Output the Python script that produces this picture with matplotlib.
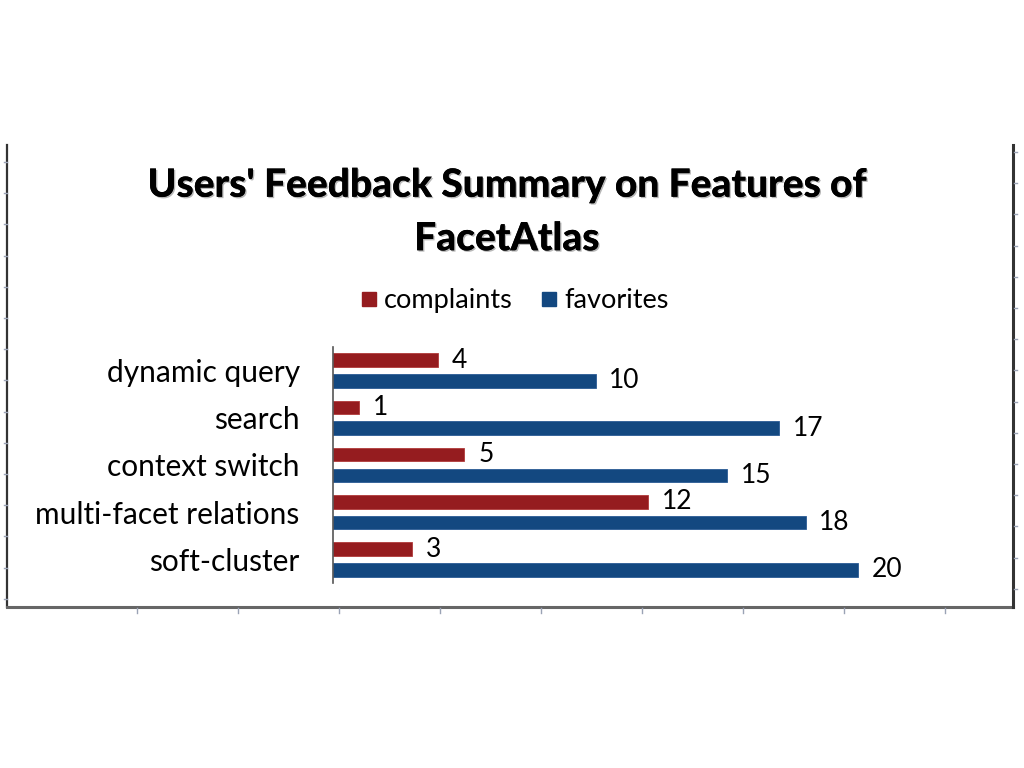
import matplotlib.pyplot as plt
import matplotlib.patheffects as pe
from matplotlib.lines import Line2D
from matplotlib.patches import Rectangle
import numpy as np

features = ["dynamic query", "search", "context switch", "multi-facet relations", "soft-cluster"]
complaints = [4, 1, 5, 12, 3]
favorites = [10, 17, 15, 18, 20]
series_names = ["complaints", "favorites"]

red = "#951c1f"
blue = "#134880"
font = "Lato"

W, H = 1024, 768
fig = plt.figure(figsize=(W / 100, H / 100), dpi=100)

# outer chart frame (left, bottom, right) with its little tick marks
def fx(x):
    return x / W

def fy(y):
    return 1 - y / H

frame_c = "#333333"
fig.add_artist(Line2D([fx(7), fx(7)], [fy(145), fy(607)], color=frame_c, lw=1.6))
fig.add_artist(Line2D([fx(7), fx(1013)], [fy(607), fy(607)], color="#666666", lw=2.2))
fig.add_artist(Line2D([fx(1013), fx(1013)], [fy(145), fy(607)], color=frame_c, lw=2.2))
for y in np.arange(162, 605, 31.2):
    fig.add_artist(Line2D([fx(4), fx(7)], [fy(y), fy(y)], color="#9aa3b5", lw=1))
for y in np.arange(152, 605, 31.2):
    fig.add_artist(Line2D([fx(1014), fx(1017)], [fy(y), fy(y)], color="#9aa3b5", lw=1))
for x in np.arange(137, 1000, 101):
    fig.add_artist(Line2D([fx(x), fx(x)], [fy(608), fy(613)], color="#9aa3b5", lw=1))

# plot area: 0 at x=333, 26.25 px per unit
ax = fig.add_axes([333 / W, 185 / H, 25 * 26.25 / W, 236 / H])
y = np.arange(len(features))
off = 0.22
h = 0.29
rb = ax.barh(y - off, complaints, height=h, color=red, edgecolor="#b03a3a", lw=0.6)
bb = ax.barh(y + off, favorites, height=h, color=blue, edgecolor="#2a5b95", lw=0.6)

for bars, vals in ((rb, complaints), (bb, favorites)):
    for b, v in zip(bars, vals):
        ax.annotate(str(v), (b.get_width(), b.get_y() + b.get_height() / 2),
                    xytext=(10, 0), textcoords="offset points", va="center", ha="left",
                    fontsize=19, family=font, color="black")

ax.set_xlim(0, 25)
ax.set_ylim(len(features) - 0.5, -0.5)
ax.set_yticks(y)
ax.set_yticklabels(features, fontsize=21.5, family=font)
ax.tick_params(axis="y", length=0, pad=24)
ax.set_xticks([])
for s in ("top", "right", "bottom"):
    ax.spines[s].set_visible(False)
ax.spines["left"].set_color("#555555")
ax.spines["left"].set_linewidth(1.2)

fig.text(0.495, fy(212), "Users' Feedback Summary on Features of\nFacetAtlas",
         ha="center", va="center", fontsize=28, fontweight=900, family=font,
         linespacing=1.55,
         path_effects=[pe.withSimplePatchShadow(offset=(1, -1), shadow_rgbFace="#888888", alpha=0.6),
                       pe.Normal()])

# legend drawn by hand so both labels sit on one baseline
for x0, c, name in zip((362, 542), (red, blue), series_names):
    fig.add_artist(Rectangle((fx(x0), fy(306)), 14 / W, 14 / H, color=c))
    fig.text(fx(x0 + 22), fy(308), name, ha="left", va="baseline",
             fontsize=19.5, family=font)

fig.savefig("out.png", dpi=100)
